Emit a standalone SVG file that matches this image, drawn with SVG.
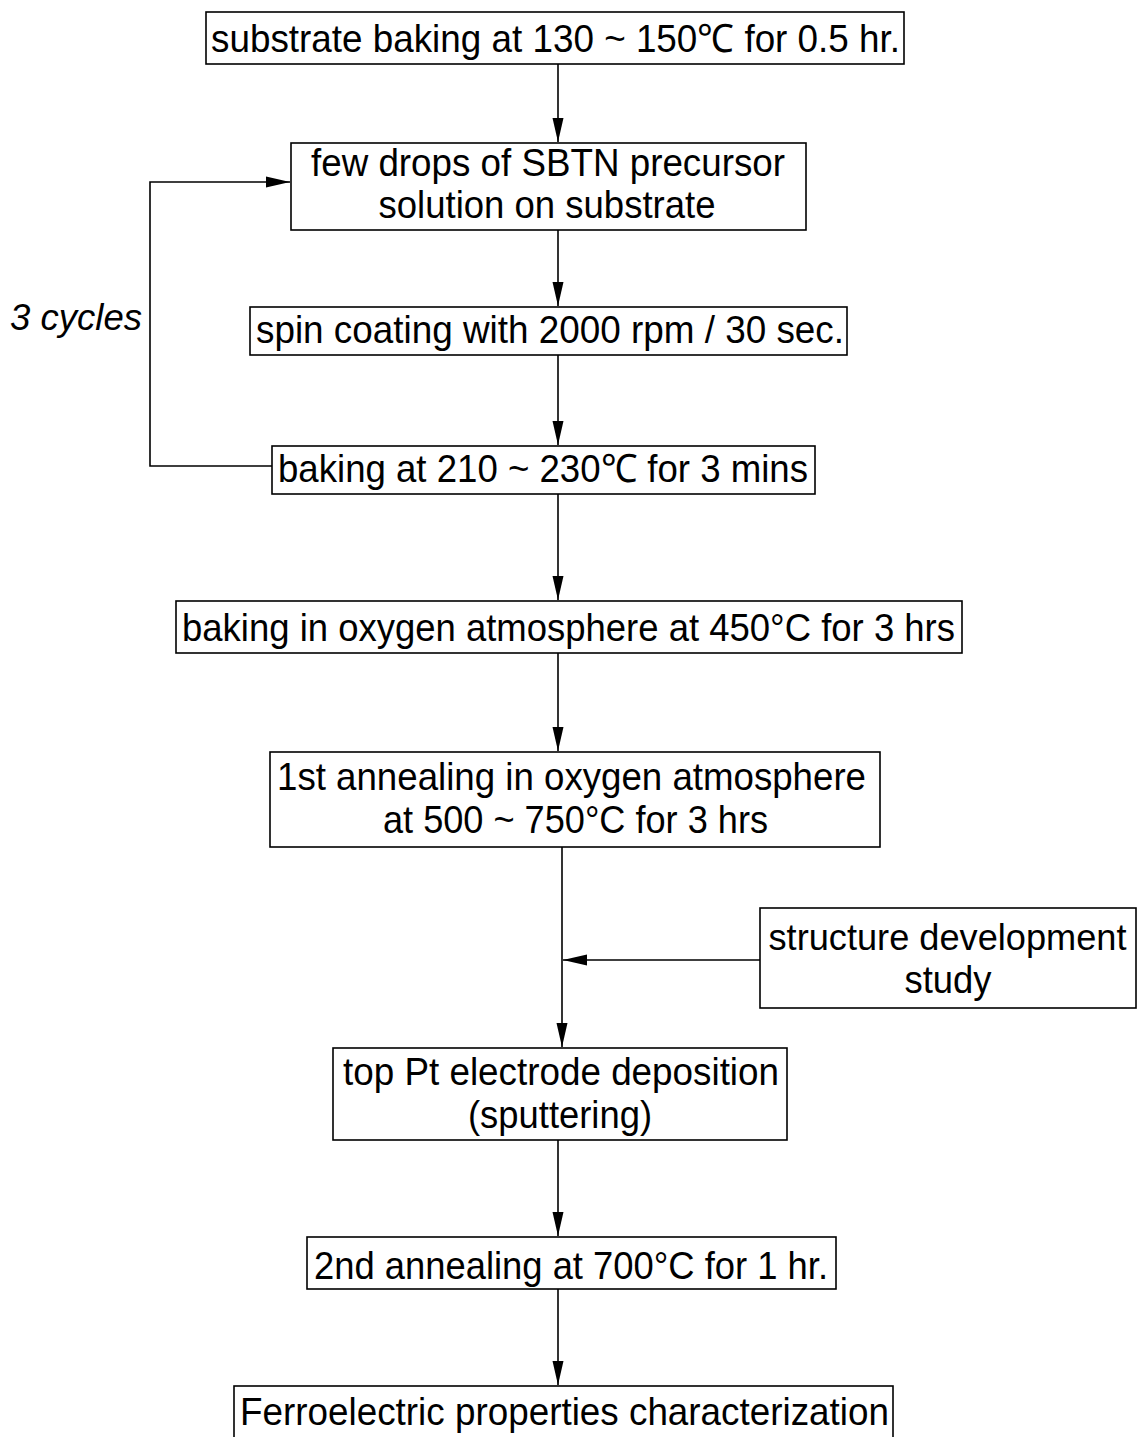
<svg xmlns="http://www.w3.org/2000/svg" width="1138" height="1437" viewBox="0 0 1138 1437">
<style>
.box{fill:#fff;stroke:#000;stroke-width:1.6}
.t{font-family:"Liberation Sans",Arial,sans-serif;font-size:39px;fill:#000;text-anchor:middle}
.c{fill:none;stroke:#000;stroke-width:1.6}
</style>
<defs>
<marker id="ah2" markerUnits="userSpaceOnUse" markerWidth="24" markerHeight="14" viewBox="0 0 24 14" refX="24" refY="7" orient="auto">
<path d="M0,1.5 L24,7 L0,12.5 Z" fill="#000"/>
</marker>
</defs>
<rect width="1138" height="1437" fill="#fff"/>
<g id="connectors">
<path class="c" d="M558,64 V142" marker-end="url(#ah2)"/>
<path class="c" d="M558,230 V306" marker-end="url(#ah2)"/>
<path class="c" d="M558,355 V445" marker-end="url(#ah2)"/>
<path class="c" d="M558,494 V600" marker-end="url(#ah2)"/>
<path class="c" d="M558,653 V751" marker-end="url(#ah2)"/>
<path class="c" d="M562,847 V1047" marker-end="url(#ah2)"/>
<path class="c" d="M760,960 H563" marker-end="url(#ah2)"/>
<path class="c" d="M558,1140 V1236" marker-end="url(#ah2)"/>
<path class="c" d="M558,1289 V1385" marker-end="url(#ah2)"/>
<path class="c" d="M272,466 H150 V182 H290" marker-end="url(#ah2)"/>
<text x="10" y="330" font-family="Liberation Sans, Arial, sans-serif" font-size="37" font-style="italic" textLength="132" lengthAdjust="spacingAndGlyphs">3 cycles</text>
</g>
<g id="n1"><rect class="box" x="206" y="12" width="698" height="52"/><text class="t" x="555.5" y="52" textLength="689" lengthAdjust="spacingAndGlyphs">substrate baking at 130 ~ 150℃ for 0.5 hr.</text></g>
<g id="n2"><rect class="box" x="291" y="143" width="515" height="87"/><text class="t" x="548" y="176" textLength="474" lengthAdjust="spacingAndGlyphs">few drops of SBTN precursor</text><text class="t" x="547" y="218" textLength="337" lengthAdjust="spacingAndGlyphs">solution on substrate</text></g>
<g id="n3"><rect class="box" x="250" y="307" width="597" height="48"/><text class="t" x="550" y="343" textLength="588" lengthAdjust="spacingAndGlyphs">spin coating with 2000 rpm / 30 sec.</text></g>
<g id="n4"><rect class="box" x="272" y="446" width="543" height="48"/><text class="t" x="543" y="482" textLength="530" lengthAdjust="spacingAndGlyphs">baking at 210 ~ 230℃ for 3 mins</text></g>
<g id="n5"><rect class="box" x="176" y="601" width="786" height="52"/><text class="t" x="568.5" y="641" textLength="773" lengthAdjust="spacingAndGlyphs">baking in oxygen atmosphere at 450°C for 3 hrs</text></g>
<g id="n6"><rect class="box" x="270" y="752" width="610" height="95"/><text class="t" x="571.5" y="790" textLength="589" lengthAdjust="spacingAndGlyphs">1st annealing in oxygen atmosphere</text><text class="t" x="575.5" y="833" textLength="385" lengthAdjust="spacingAndGlyphs">at 500 ~ 750°C for 3 hrs</text></g>
<g id="n7"><rect class="box" x="760" y="908" width="376" height="100"/><text class="t" x="947.5" y="950" font-size="36" textLength="358" lengthAdjust="spacingAndGlyphs" style="font-size:36px">structure development</text><text class="t" x="948" y="993" textLength="87" lengthAdjust="spacingAndGlyphs">study</text></g>
<g id="n8"><rect class="box" x="333" y="1048" width="454" height="92"/><text class="t" x="561" y="1085" textLength="436" lengthAdjust="spacingAndGlyphs">top Pt electrode deposition</text><text class="t" x="560" y="1128" textLength="184" lengthAdjust="spacingAndGlyphs">(sputtering)</text></g>
<g id="n9"><rect class="box" x="307" y="1237" width="529" height="52"/><text class="t" x="571" y="1279" textLength="514" lengthAdjust="spacingAndGlyphs">2nd annealing at 700°C for 1 hr.</text></g>
<g id="n10"><rect class="box" x="234" y="1386" width="659" height="60"/><text class="t" x="564.5" y="1425" textLength="649" lengthAdjust="spacingAndGlyphs">Ferroelectric properties characterization</text></g>
</svg>
